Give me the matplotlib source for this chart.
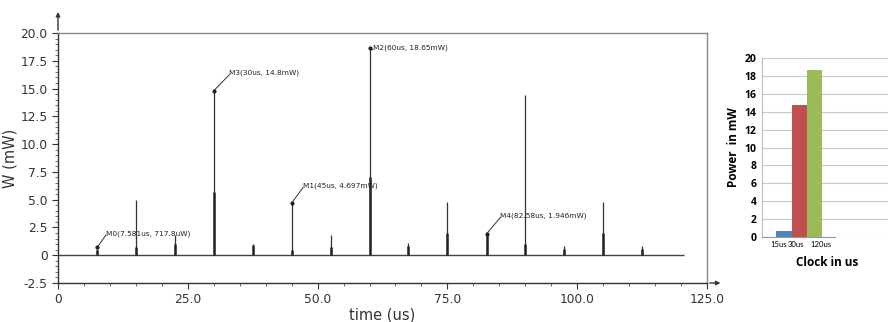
import matplotlib
matplotlib.use("Agg")
import matplotlib.pyplot as plt
from matplotlib.ticker import MultipleLocator

# ---- data ----
spike_times = [7.58, 15, 22.5, 30, 37.5, 45, 52.5, 60, 67.5, 75, 82.58, 90, 97.5, 105, 112.5]
spike_peaks = [0.718, 4.95, 1.8, 14.8, 1.0, 4.697, 1.8, 18.65, 1.1, 4.8, 1.946, 14.4, 0.8, 4.8, 0.8]
spike_inner = [0.5, 0.7, 1.0, 5.7, 0.9, 0.5, 0.7, 7.0, 0.8, 2.0, 1.9, 1.0, 0.6, 2.0, 0.6]

marker_x = [7.58, 30, 45, 60, 82.58]
marker_y = [0.718, 14.8, 4.697, 18.65, 1.946]
marker_labels = ["M0(7.581us, 717.8uW)", "M3(30us, 14.8mW)", "M1(45us, 4.697mW)",
                 "M2(60us, 18.65mW)", "M4(82.58us, 1.946mW)"]
marker_text_x = [9.2, 33.0, 47.2, 60.6, 85.2]
marker_text_y = [1.65, 16.1, 5.95, 18.35, 3.25]

x_ticks = [0, 25, 50, 75, 100, 125]
x_tick_labels = ["0", "25.0", "50.0", "75.0", "100.0", "125.0"]
y_ticks = [-2.5, 0, 2.5, 5, 7.5, 10, 12.5, 15, 17.5, 20]
y_tick_labels = ["-2.5", "0", "2.5", "5.0", "7.5", "10.0", "12.5", "15.0", "17.5", "20.0"]

bar_cats = ["15us", "30us", "120us"]
bar_vals = [0.7, 14.8, 18.65]
bar_colors = ["#4F81BD", "#C0504D", "#9BBB59"]
bar_yticks = [0, 2, 4, 6, 8, 10, 12, 14, 16, 18, 20]

fig = plt.figure(figsize=(8.89, 3.22), dpi=100)

# ---- left waveform plot ----
ax = fig.add_axes([58/889, 1-283/322, (707-58)/889, (283-33)/322])
ax.set_xlim(0, 125)
ax.set_ylim(-2.5, 20)

ax.hlines(0, 0, 120.5, color="#444444", lw=1.0)
ax.vlines(spike_times, 0, spike_peaks, color="#333333", lw=0.9)
ax.vlines(spike_times, 0, spike_inner, color="#222222", lw=1.8)

ax.plot(marker_x, marker_y, "o", color="#222222", ms=2.0, zorder=5)
for mx, my, tx, ty, lab in zip(marker_x, marker_y, marker_text_x, marker_text_y, marker_labels):
    ax.plot([mx, tx], [my, ty + 0.15], color="#333333", lw=0.7)
    ax.text(tx, ty, lab, fontsize=5.3, color="#222222", va="bottom", ha="left")

for s in ["top", "right"]:
    ax.spines[s].set_color("#888888")
    ax.spines[s].set_linewidth(1.0)
for s in ["left", "bottom"]:
    ax.spines[s].set_color("#333333")
    ax.spines[s].set_linewidth(1.0)

# axis arrows extending beyond the box
ax.annotate("", xy=(0, 1.095), xytext=(0, 1.0), xycoords="axes fraction",
            arrowprops=dict(arrowstyle="-|>", color="#333333", lw=1.0, mutation_scale=6),
            annotation_clip=False)
ax.annotate("", xy=(1.025, 0), xytext=(1.0, 0), xycoords="axes fraction",
            arrowprops=dict(arrowstyle="-|>", color="#333333", lw=1.0, mutation_scale=6),
            annotation_clip=False)

ax.set_xticks(x_ticks)
ax.set_xticklabels(x_tick_labels)
ax.set_yticks(y_ticks)
ax.set_yticklabels(y_tick_labels)
ax.xaxis.set_minor_locator(MultipleLocator(5))
ax.yaxis.set_minor_locator(MultipleLocator(0.5))
ax.tick_params(axis="both", which="major", labelsize=8.8, length=4, color="#333333", labelcolor="#333333")
ax.tick_params(axis="x", which="major", pad=3)
ax.tick_params(axis="both", which="minor", length=2, color="#555555")
ax.set_xlabel("time (us)", fontsize=10.5, color="#333333", labelpad=1)
ax.set_ylabel("W (mW)", fontsize=10.5, color="#333333", labelpad=2)

# ---- right bar chart ----
bx = fig.add_axes([762/889, 1-237/322, (888-762)/889, (237-58)/322])
pos = list(range(len(bar_cats)))
bx.bar(pos, bar_vals, width=1.0, color=bar_colors, zorder=3)
bx.set_xlim(-1.42, 6.75)
bx.set_ylim(0, 20)
bx.set_yticks(bar_yticks)
bx.yaxis.grid(True, color="#C8C8C8", lw=0.8, zorder=0)
bx.set_axisbelow(True)
for s in ["top", "right"]:
    bx.spines[s].set_visible(False)
bx.spines["left"].set_color("#BBBBBB")
bx.spines["bottom"].set_color("#999999")
bx.spines["bottom"].set_bounds(-1.42, 3.3)
bx.set_xticks([])
label_shift_px = [-5, -3, 6]
for p, lab, dx in zip(pos, bar_cats, label_shift_px):
    bx.annotate(lab, xy=(p, 0), xycoords=("data", "axes fraction"),
                xytext=(dx, -4), textcoords="offset pixels",
                ha="center", va="top", fontsize=5.6, family="Lato",
                annotation_clip=False)
bx.tick_params(axis="y", length=0, labelsize=7.5, pad=4)
for t in bx.get_yticklabels():
    t.set_fontweight("bold")
    t.set_family("Open Sans")
bx.set_ylabel("Power  in mW", fontsize=8.5, fontweight="bold", family="Open Sans", labelpad=3)
fig.text(827/889, 1-263/322, "Clock in us", fontsize=8.5, fontweight="bold",
         family="Open Sans", ha="center", va="center")

fig.savefig("out.png", dpi=100)
